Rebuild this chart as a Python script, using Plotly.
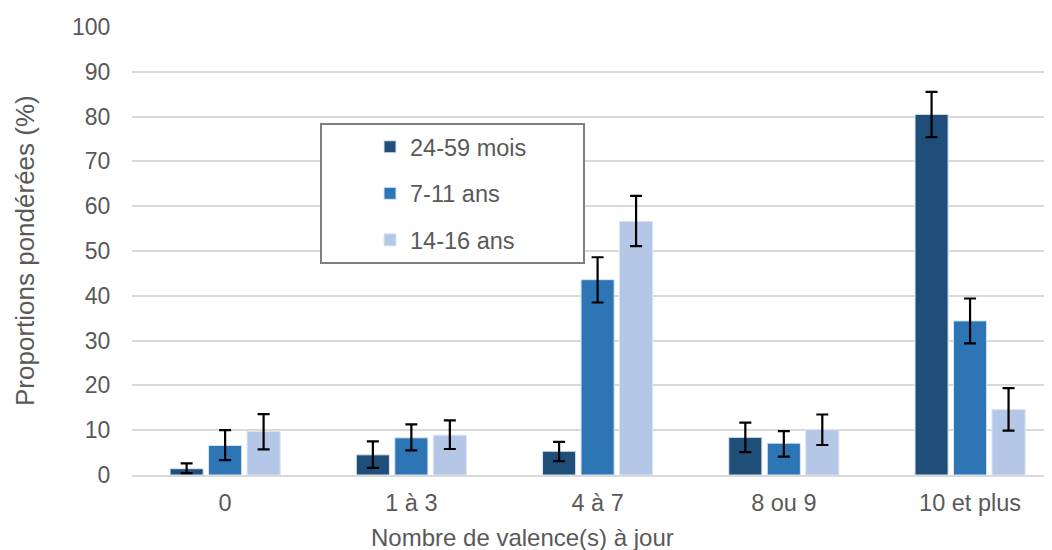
import plotly.graph_objects as go

# categories on the x axis
categories = ["0", "1 à 3", "4 à 7", "8 ou 9", "10 et plus"]

# weighted proportions (%) per age group
age_groups = ["24-59 mois", "7-11 ans", "14-16 ans"]
val_24_59m = [1.4, 4.5, 5.3, 8.4, 80.5]
val_7_11a = [6.6, 8.3, 43.6, 7.1, 34.4]
val_14_16a = [9.7, 8.9, 56.6, 10.1, 14.6]

# confidence interval half-widths (upper, lower)
err_up_24_59m = [1.2, 3.0, 2.1, 3.3, 5.0]
err_dn_24_59m = [1.0, 2.9, 2.2, 3.3, 5.1]
err_up_7_11a = [3.4, 3.0, 5.0, 2.7, 5.0]
err_dn_7_11a = [3.3, 2.8, 5.1, 3.0, 5.0]
err_up_14_16a = [3.9, 3.3, 5.7, 3.4, 4.8]
err_dn_14_16a = [4.0, 3.1, 5.5, 3.4, 4.7]

colors = ["#1F4E79", "#2E75B6", "#B4C7E7"]

values = [val_24_59m, val_7_11a, val_14_16a]
err_up = [err_up_24_59m, err_up_7_11a, err_up_14_16a]
err_dn = [err_dn_24_59m, err_dn_7_11a, err_dn_14_16a]

font_family = "Liberation Sans, Arial, sans-serif"
grey_txt = "#595959"

fig = go.Figure()
for i, name in enumerate(age_groups):
    fig.add_trace(
        go.Bar(
            x=categories,
            y=values[i],
            name=name,
            legendgroup=name,
            marker={"color": colors[i], "line": {"color": "#dbe4f0", "width": 1}},
            error_y={
                "type": "data",
                "symmetric": False,
                "array": err_up[i],
                "arrayminus": err_dn[i],
                "color": "black",
                "thickness": 2.2,
                "width": 6,
            },
        )
    )

# the page has an 8px body margin: figure is 1044x542, drawn from (8, 8)
# plot area on the page: x 132 -> 1052, y 27 -> 475
ml, mt, mb = 124, 19, 75
fw, fh = 1044, 542
pw, ph = fw - ml, fh - mt - mb


def px_x(p):
    # page pixel -> paper x
    return (p - 8 - ml) / pw


def px_y(p):
    # page pixel -> paper y
    return (fh - mb - (p - 8)) / ph


fig.add_shape(
    type="rect",
    xref="paper",
    yref="paper",
    x0=px_x(321),
    x1=px_x(584),
    y0=px_y(263),
    y1=px_y(124),
    line={"color": "#7f7f7f", "width": 2},
    fillcolor="white",
    layer="above",
)

fig.add_annotation(
    text="Nombre de valence(s) à jour",
    xref="paper",
    yref="paper",
    x=px_x(522),
    y=px_y(537),
    xanchor="center",
    yanchor="middle",
    showarrow=False,
    font={"size": 24, "color": grey_txt},
)
fig.add_annotation(
    text="Proportions pondérées (%)",
    xref="paper",
    yref="paper",
    x=px_x(25),
    y=px_y(251),
    xanchor="center",
    yanchor="middle",
    textangle=-90,
    showarrow=False,
    font={"size": 26, "color": grey_txt},
)

fig.update_layout(
    width=fw,
    height=fh,
    template="none",
    paper_bgcolor="white",
    plot_bgcolor="white",
    margin={"l": ml, "r": 0, "t": mt, "b": mb},
    barmode="group",
    bargap=0.38,
    bargroupgap=0.14,
    font={"family": font_family, "size": 23, "color": grey_txt},
    showlegend=True,
    legend={
        "x": px_x(370),
        "y": px_y(125),
        "xanchor": "left",
        "yanchor": "top",
        "bgcolor": "rgba(0,0,0,0)",
        "borderwidth": 0,
        "tracegroupgap": 13,
        "font": {"size": 23.5, "color": grey_txt},
    },
    xaxis={
        "range": [-0.5, 4.44],
        "showgrid": False,
        "showline": True,
        "linecolor": "#d9d9d9",
        "linewidth": 1.5,
        "ticks": "outside",
        "ticklen": 6,
        "tickcolor": "rgba(0,0,0,0)",
        "tickfont": {"size": 23.5, "color": grey_txt},
        "automargin": False,
    },
    yaxis={
        "range": [0, 100],
        "dtick": 10,
        "showgrid": True,
        "gridcolor": "#d9d9d9",
        "gridwidth": 1.5,
        "zeroline": False,
        "ticks": "outside",
        "ticklen": 16,
        "tickcolor": "rgba(0,0,0,0)",
        "tickfont": {"size": 23, "color": grey_txt},
        "automargin": False,
    },
)

fig.write_html("out.html")
